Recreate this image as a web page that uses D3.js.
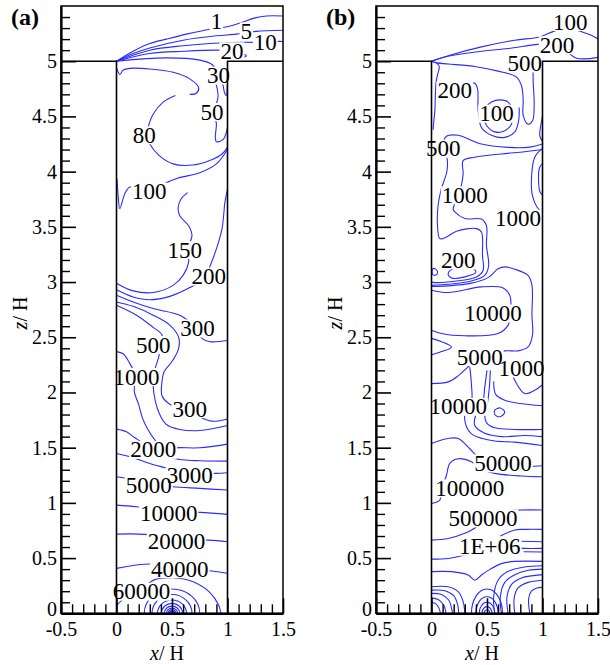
<!DOCTYPE html>
<html><head><meta charset="utf-8">
<script src="https://cdn.jsdelivr.net/npm/d3@7"></script>
<style>body{margin:0;background:#fff}svg{display:block}</style>
</head><body><svg id="chart" width="610" height="665" font-family="Liberation Serif"></svg>
<script>
// ---------- data ----------
const xTicks = [-0.5, 0, 0.5, 1, 1.5];
const zTicks = [0, 0.5, 1, 1.5, 2, 2.5, 3, 3.5, 4, 4.5, 5];
const panelNames = ["(a)", "(b)"];

// Panel (a) contour lines [x/H, z/H]
const contoursA = [
  [[0,5.0],[0.15,5.09],[0.30,5.16],[0.45,5.20],[0.63,5.245],[0.84,5.29],[0.985,5.31],[1.11,5.345],[1.24,5.39],[1.35,5.41],[1.5,5.41]],
  [[0,5.0],[0.15,5.07],[0.30,5.12],[0.60,5.19],[0.90,5.23],[1.08,5.245],[1.17,5.26],[1.26,5.27],[1.5,5.28]],
  [[0,5.0],[0.30,5.10],[0.60,5.14],[0.93,5.165],[1.15,5.172],[1.34,5.17],[1.46,5.18],[1.5,5.178]],
  [[0,5.0],[0.30,5.07],[0.60,5.09],[0.93,5.10],[1.04,5.09],[1.13,5.07],[1.17,5.05],[1.15,5.035]],
  [[0,5.0],[0.45,5.03],[0.75,5.01],[0.86,4.97],[0.92,4.88],[0.955,4.80],[0.975,4.71],[0.99,4.69],[0.998,4.80],[1.0,4.98]],
  [[0.005,4.93],[0.03,4.88],[0.06,4.92],[0.12,4.935],[0.30,4.93],[0.51,4.90],[0.66,4.84],[0.74,4.76],[0.72,4.71],[0.66,4.70]],
  [[0.89,4.82],[0.915,4.68],[0.88,4.54],[0.90,4.43],[0.89,4.31],[0.90,4.27],[0.96,4.29],[0.985,4.34],[1.0,4.40]],
  [[0.53,4.69],[0.42,4.63],[0.33,4.52],[0.29,4.42],[0.27,4.33],[0.30,4.25],[0.38,4.15],[0.51,4.07],[0.69,4.06],[0.84,4.10],[0.95,4.16],[1.0,4.22]],
  [[1.0,4.20],[0.90,4.07],[0.75,3.99],[0.55,3.94],[0.40,3.88],[0.28,3.84],[0.18,3.85],[0.12,3.86],[0.075,3.80],[0.03,3.665],[0.015,3.78],[0.005,3.935]],
  [[0.64,3.81],[0.58,3.75],[0.555,3.67],[0.57,3.60],[0.65,3.51],[0.68,3.42],[0.64,3.30],[0.65,3.18],[0.60,3.06],[0.51,2.97],[0.33,2.905],[0.15,2.92],[0,2.99]],
  [[1.0,3.84],[0.975,3.71],[0.965,3.60],[0.95,3.48],[0.90,3.30],[0.845,3.15],[0.80,3.04],[0.66,2.95],[0.48,2.87],[0.30,2.84],[0.15,2.865],[0,2.93]],
  [[0,2.88],[0.15,2.82],[0.33,2.76],[0.57,2.70],[0.68,2.62],[0.73,2.56],[0.77,2.49],[0.84,2.46],[1.0,2.47]],
  [[0,2.82],[0.15,2.78],[0.33,2.70],[0.48,2.61],[0.56,2.50],[0.56,2.40],[0.50,2.28],[0.43,2.19],[0.41,2.10],[0.41,1.97],[0.47,1.90],[0.57,1.86],[0.66,1.85],[0.75,1.78],[0.86,1.74],[1.0,1.76]],
  [[0,2.79],[0.18,2.70],[0.33,2.59],[0.41,2.52],[0.40,2.43],[0.38,2.32],[0.35,2.22],[0.33,2.07],[0.35,1.92],[0.39,1.80],[0.45,1.71],[0.57,1.665],[0.75,1.655],[1.0,1.70]],
  [[0,2.37],[0.06,2.35],[0.11,2.28],[0.17,2.15],[0.16,2.01],[0.20,1.89],[0.235,1.765],[0.28,1.67],[0.36,1.55],[0.47,1.42],[0.60,1.39],[0.75,1.382],[1.0,1.378]],
  [[0,1.668],[0.09,1.644],[0.165,1.59],[0.33,1.50],[0.57,1.50],[0.75,1.499],[1.0,1.532]],
  [[0,1.448],[0.15,1.41],[0.30,1.357],[0.44,1.318],[0.66,1.26],[0.89,1.267],[1.0,1.273]],
  [[0,1.236],[0.06,1.227],[0.29,1.17],[0.50,1.146],[0.75,1.131],[1.0,1.116]],
  [[0,0.98],[0.18,0.965],[0.47,0.92],[0.75,0.914],[1.0,0.896]],
  [[0,0.717],[0.255,0.715],[0.54,0.67],[0.83,0.663],[1.0,0.648]],
  [[0,0.407],[0.30,0.446],[0.57,0.41],[0.84,0.386],[1.0,0.362]],
  [[0,0.07],[0.04,0.11],[0.12,0.17],[0.225,0.22],[0.345,0.305],[0.51,0.322],[0.69,0.286],[0.84,0.19],[0.92,0.075],[0.94,0]]
];
const loopsA = [];
const ringsA = [[0.25,0.22],[0.18,0.17],[0.13,0.12],[0.095,0.09],[0.07,0.065],[0.05,0.047],[0.035,0.033],[0.024,0.022],[0.014,0.013],[0.007,0.007]];
const labelsA = [
  [0.90,5.36,"1"],[1.17,5.27,"5"],[1.34,5.17,"10"],[1.04,5.09,"20"],[0.92,4.87,"30"],[0.86,4.54,"50"],
  [0.25,4.33,"80"],[0.295,3.82,"100"],[0.615,3.29,"150"],[0.83,3.05,"200"],[0.73,2.58,"300"],
  [0.33,2.43,"500"],[0.18,2.14,"1000"],[0.66,1.85,"300"],[0.33,1.48,"2000"],[0.66,1.25,"3000"],
  [0.29,1.16,"5000"],[0.47,0.905,"10000"],[0.54,0.648,"20000"],[0.57,0.40,"40000"],[0.225,0.196,"60000"]
];

// Panel (b)
const contoursB = [
  [[0,5.0],[0.03,5.01],[0.15,5.05],[0.45,5.13],[0.75,5.19],[0.975,5.22],[1.1,5.27],[1.23,5.30],[1.40,5.25],[1.47,5.22],[1.5,5.20]],
  [[0,5.0],[0.15,5.045],[0.45,5.09],[0.69,5.115],[0.98,5.155],[1.14,5.16],[1.3,5.03],[1.5,5.035]],
  [[0,5.0],[0.05,4.985],[0.15,4.975],[0.40,4.95],[0.60,4.91],[0.76,4.86],[0.81,4.78],[0.826,4.65],[0.826,4.51],[0.87,4.43],[0.91,4.46],[0.925,4.61],[0.916,4.83],[0.92,4.93],[0.96,4.99],[1.0,5.005]],
  [[0,5.0],[0.05,4.98],[0.07,4.95],[0.055,4.88],[0.04,4.80],[0.035,4.70],[0.03,4.55],[0.02,4.45],[0.015,4.38]],
  [[0.21,4.74],[0.32,4.80],[0.39,4.80],[0.415,4.75],[0.42,4.56],[0.45,4.40],[0.54,4.33],[0.66,4.31],[0.75,4.36],[0.785,4.46],[0.79,4.58]],
  [[1.0,4.25],[0.87,4.22],[0.69,4.22],[0.45,4.25],[0.30,4.31],[0.24,4.33],[0.135,4.32],[0.105,4.21],[0.14,4.12],[0.14,4.01],[0.085,3.83],[0.06,3.70],[0.054,3.514],[0.075,3.393],[0.135,3.408],[0.225,3.46],[0.405,3.484],[0.45,3.454],[0.459,3.242],[0.465,3.107],[0.405,3.046],[0.21,3.007],[0.03,2.995],[0,3.0]],
  [[1.0,4.20],[0.84,4.18],[0.63,4.16],[0.39,4.13],[0.285,4.10],[0.285,3.98],[0.265,3.86],[0.21,3.71],[0.195,3.66],[0.21,3.635],[0.30,3.575],[0.45,3.57],[0.495,3.51],[0.495,3.33],[0.515,3.15],[0.48,3.06],[0.36,3.01],[0.15,2.98],[0,2.97]],
  [[1.0,4.50],[0.985,4.42],[0.975,4.33],[0.99,4.29],[1.0,4.28]],
  [[1.0,4.07],[0.975,4.04],[0.965,3.90],[0.98,3.81],[1.0,3.79]],
  [[1.0,4.21],[0.93,4.13],[0.90,3.92],[0.91,3.78],[0.95,3.68],[1.0,3.63]],
  [[0,2.926],[0.15,2.905],[0.45,2.956],[0.645,2.947],[0.705,2.88],[0.715,2.76],[0.69,2.61],[0.60,2.534],[0.30,2.513],[0.09,2.534],[0,2.564]],
  [[0,2.96],[0.15,2.965],[0.36,2.99],[0.51,3.04],[0.60,3.12],[0.66,3.137],[0.75,3.116],[0.87,3.06],[0.905,2.97],[0.905,2.70],[0.91,2.52],[0.87,2.413],[0.78,2.377],[0.66,2.377],[0.50,2.34],[0.435,2.32],[0.36,2.26],[0.24,2.15],[0.15,2.096],[0,2.08]],
  [[0,2.49],[0.09,2.46],[0.18,2.41],[0.09,2.37],[0,2.34]],
  [[0.70,2.26],[0.72,2.19],[0.75,2.11],[0.84,1.99],[0.93,2.02],[1.0,2.07]],
  [[0.345,2.23],[0.36,2.07],[0.36,1.90],[0.30,1.795],[0.315,1.69],[0.36,1.625],[0.45,1.585],[0.57,1.56],[0.75,1.55],[1.0,1.52]],
  [[0.50,2.20],[0.48,2.05],[0.46,1.90],[0.40,1.80],[0.39,1.70],[0.48,1.63],[0.63,1.60],[0.84,1.61],[1.0,1.60]],
  [[0.53,2.20],[0.52,2.03],[0.50,1.88],[0.48,1.80],[0.50,1.72],[0.57,1.68],[0.75,1.665],[1.0,1.665]],
  [[0.56,2.10],[0.58,1.98],[0.66,1.93],[0.80,1.90],[1.0,1.88]],
  [[0,1.538],[0.15,1.583],[0.24,1.583],[0.345,1.49],[0.42,1.417],[0.645,1.357],[0.84,1.33],[1.0,1.336]],
  [[0,0.995],[0.075,1.025],[0.09,1.12],[0.135,1.25],[0.165,1.358],[0.24,1.40],[0.36,1.372],[0.45,1.303],[0.57,1.267],[0.81,1.243],[1.0,1.236]],
  [[0,0.663],[0.15,0.678],[0.30,0.724],[0.405,0.784],[0.465,0.859],[0.65,0.92],[0.81,0.935],[1.0,0.935]],
  [[0,0.491],[0.15,0.497],[0.30,0.528],[0.525,0.603],[0.70,0.60],[0.83,0.588],[1.0,0.588]],
  [[0.62,0.70],[0.75,0.755],[0.85,0.76],[1.0,0.76]],
  [[0.80,0.652],[1.0,0.648]],
  [[0.83,0.558],[1.0,0.555]],
  [[0,0.377],[0.18,0.377],[0.33,0.347],[0.39,0.30],[0.45,0.347],[0.53,0.40],[0.63,0.45],[0.75,0.47],[1.0,0.47]],
  [[0.57,0],[0.56,0.15],[0.60,0.30],[0.69,0.38],[0.84,0.42],[1.0,0.43]],
  [[0.63,0],[0.62,0.15],[0.66,0.28],[0.75,0.35],[0.87,0.39],[1.0,0.40]],
  [[0.69,0],[0.68,0.15],[0.72,0.26],[0.81,0.32],[1.0,0.35]],
  [[0.75,0],[0.745,0.14],[0.78,0.23],[0.87,0.28],[1.0,0.30]],
  [[0.885,0],[0.875,0.13],[0.90,0.20],[0.95,0.23],[1.0,0.235]],
  [[0,0.24],[0.15,0.24],[0.24,0.196],[0.285,0.106],[0.30,0]],
  [[0,0.21],[0.12,0.205],[0.20,0.16],[0.235,0.08],[0.245,0]],
  [[0,0.18],[0.09,0.17],[0.155,0.12],[0.18,0.05],[0.19,0]],
  [[0,0.14],[0.06,0.125],[0.11,0.075],[0.13,0]],
  [[0,0.10],[0.04,0.085],[0.07,0.04],[0.08,0]]
];
const loopsB = [
  [[0.465,4.51],[0.495,4.42],[0.57,4.36],[0.66,4.37],[0.72,4.43],[0.735,4.54],[0.69,4.63],[0.62,4.65],[0.54,4.63],[0.48,4.57]],
  [[0.15,3.077],[0.195,3.12],[0.36,3.137],[0.40,3.09],[0.30,3.047],[0.18,3.037]],
  [[0.01,3.12],[0.04,3.115],[0.055,3.08],[0.03,3.06],[0.01,3.07]],
  [[0.57,1.84],[0.62,1.86],[0.66,1.82],[0.615,1.78],[0.57,1.80]]
];
const ringsB = [[0.14,0.22],[0.10,0.15],[0.07,0.10],[0.045,0.06],[0.025,0.03]];
const labelsB = [
  [1.25,5.355,"100"],[1.13,5.145,"200"],[0.84,4.98,"500"],[0.21,4.736,"200"],[0.585,4.524,"100"],
  [0.105,4.208,"500"],[0.30,3.785,"1000"],[0.78,3.574,"1000"],[0.24,3.197,"200"],[0.555,2.715,"10000"],
  [0.435,2.322,"5000"],[0.81,2.217,"1000"],[0.24,1.87,"10000"],[0.645,1.357,"50000"],[0.345,1.131,"100000"],
  [0.465,0.859,"500000"],[0.525,0.603,"1E+06"]
];

// ---------- drawing ----------
const FONT = "Liberation Serif";
const svg = d3.select("#chart");
const TOP = 6, BOTTOM = 613.3, PW = 222;
const panels = [
  {left: 61, name: panelNames[0], contours: contoursA, loops: loopsA, rings: ringsA, labels: labelsA, zTitleX: 27},
  {left: 376, name: panelNames[1], contours: contoursB, loops: loopsB, rings: ringsB, labels: labelsB, zTitleX: 342}
];
const LINE = "#2b2bff";

panels.forEach((p, i) => {
  const x = d3.scaleLinear().domain([-0.5, 1.5]).range([p.left, p.left + PW]);
  const y = d3.scaleLinear().domain([0, 5.5]).range([BOTTOM, TOP]);
  const g = svg.append("g").attr("font-family", FONT);
  const clipId = "clip" + i;
  svg.append("clipPath").attr("id", clipId).append("rect")
    .attr("x", p.left).attr("y", TOP).attr("width", PW).attr("height", BOTTOM - TOP);
  const cg = g.append("g").attr("clip-path", `url(#${clipId})`);

  const line = d3.line().x(d => x(d[0])).y(d => y(d[1])).curve(d3.curveCatmullRom.alpha(0.5));
  const loop = d3.line().x(d => x(d[0])).y(d => y(d[1])).curve(d3.curveCatmullRomClosed.alpha(0.5));

  cg.selectAll("path.c").data(p.contours).join("path").attr("class", "c")
    .attr("d", line).attr("fill", "none").attr("stroke", LINE).attr("stroke-width", 1.1);
  cg.selectAll("path.l").data(p.loops).join("path").attr("class", "l")
    .attr("d", loop).attr("fill", "none").attr("stroke", LINE).attr("stroke-width", 1.1);
  cg.selectAll("path.r").data(p.rings).join("path").attr("class", "r")
    .attr("d", r => {
      const cx = x(0.5), cy = y(0), rx = x(0.5 + r[0]) - cx, ry = cy - y(r[1]);
      return `M${cx - rx},${cy} A${rx},${ry} 0 0 1 ${cx + rx},${cy}`;
    })
    .attr("fill", "none").attr("stroke", LINE).attr("stroke-width", 1.1);

  // contour labels with white backing
  const lg = g.append("g");
  p.labels.forEach(l => {
    const t = lg.append("text").attr("x", x(l[0])).attr("y", y(l[1]) + 7.6)
      .attr("text-anchor", "middle").attr("font-size", 23).attr("font-family", FONT).attr("fill", "#000").text(l[2]);
    const bb = t.node().getBBox();
    lg.insert("rect", "text").attr("x", bb.x - 1).attr("y", y(l[1]) - 9).attr("width", bb.width + 2)
      .attr("height", 18).attr("fill", "#fff");
  });

  // building outline
  g.append("path")
    .attr("d", `M${x(-0.5)},${y(5)} L${x(0)},${y(5)} L${x(0)},${y(0)} M${x(1)},${y(0)} L${x(1)},${y(5)} L${x(1.5)},${y(5)}`)
    .attr("fill", "none").attr("stroke", "#000").attr("stroke-width", 1.6);

  // frame
  g.append("rect").attr("x", p.left).attr("y", TOP).attr("width", PW).attr("height", BOTTOM - TOP)
    .attr("fill", "none").attr("stroke", "#000").attr("stroke-width", 1.5);

  // minor ticks
  const minorZ = d3.range(0, 55).map(v => v / 10).filter(v => Math.abs(v * 2 - Math.round(v * 2)) > 1e-6);
  const minorX = d3.range(-5, 16).map(v => v / 10).filter(v => Math.abs(v * 2 - Math.round(v * 2)) > 1e-6);
  g.append("g").attr("transform", `translate(${p.left},0)`)
    .call(d3.axisLeft(y).tickValues(minorZ).tickSize(-9).tickSizeOuter(0).tickFormat(""))
    .call(a => a.select(".domain").remove())
    .call(a => a.selectAll("line").attr("stroke-width", 1.4));
  g.append("g").attr("transform", `translate(0,${BOTTOM})`)
    .call(d3.axisBottom(x).tickValues(minorX).tickSize(-9).tickSizeOuter(0).tickFormat(""))
    .call(a => a.select(".domain").remove())
    .call(a => a.selectAll("line").attr("stroke-width", 1.4));

  // major axes
  const ya = g.append("g").attr("transform", `translate(${p.left},0)`)
    .call(d3.axisLeft(y).tickValues(zTicks).tickSize(-15).tickSizeOuter(0).tickPadding(4).tickFormat(d => String(d)));
  const xa = g.append("g").attr("transform", `translate(0,${BOTTOM})`)
    .call(d3.axisBottom(x).tickValues(xTicks).tickSize(-15).tickSizeOuter(0).tickPadding(9).tickFormat(d => String(d)));
  [ya, xa].forEach(a => {
    a.attr("font-family", FONT).attr("font-size", 20);
    a.selectAll("text").attr("font-size", 20).attr("font-family", FONT).attr("fill", "#000");
    a.selectAll("line").attr("stroke-width", 1.6);
    a.select(".domain").attr("stroke-width", 2.2);
  });
  ya.selectAll(".tick").filter(d => d === 0).select("text").attr("dy", "0.1em");

  // titles
  const xt = g.append("text").attr("x", x(0.5) - 5).attr("y", 660).attr("text-anchor", "middle").attr("font-size", 20).attr("font-family", FONT);
  xt.append("tspan").attr("font-style", "italic").text("x");
  xt.append("tspan").text("/ H");
  const zt = g.append("text").attr("transform", `translate(${p.zTitleX},313) rotate(-90)`).attr("text-anchor", "middle").attr("font-size", 20).attr("font-family", FONT);
  zt.append("tspan").attr("font-style", "italic").text("z");
  zt.append("tspan").text("/ H");
  g.append("text").attr("x", p.left - 50).attr("y", 25).attr("font-size", 24).attr("font-weight", "bold").attr("font-family", FONT).text(p.name);
});
</script></body></html>
